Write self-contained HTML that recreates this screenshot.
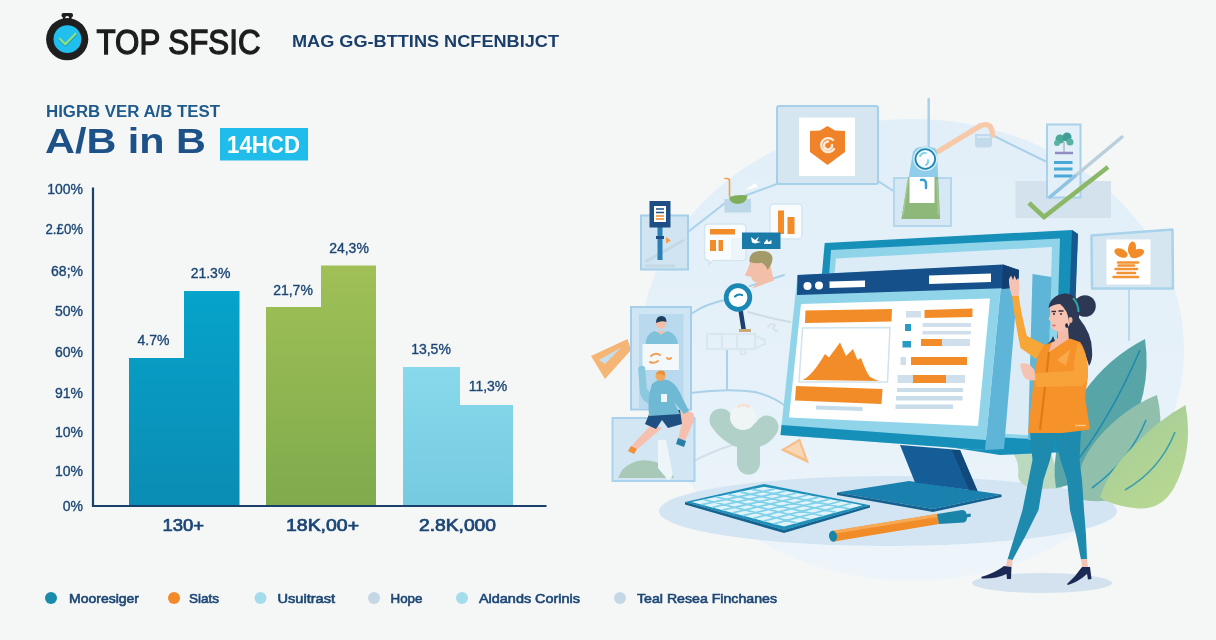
<!DOCTYPE html>
<html lang="en">
<head>
<meta charset="utf-8">
<title>Top SFSIC - A/B Test</title>
<style>
html,body{margin:0;padding:0;background:#f5f7f7;}
body{width:1216px;height:640px;overflow:hidden;font-family:"Liberation Sans",sans-serif;}
svg{display:block;position:absolute;left:0;top:0;}
text{font-family:"Liberation Sans",sans-serif;}
.nv{fill:#1c4674;}
.yl{font-size:14px;fill:#1c4674;stroke:#1c4674;stroke-width:.35px;text-anchor:end;}
.bl{font-size:14px;fill:#1c4674;stroke:#1c4674;stroke-width:.35px;text-anchor:middle;}
.xl{font-size:16px;fill:#1c4674;stroke:#1c4674;stroke-width:.7px;}
.lg{font-size:13px;fill:#1c4674;stroke:#1c4674;stroke-width:.6px;}
</style>
</head>
<body>
<svg width="1216" height="640" viewBox="0 0 1216 640">
<defs>
<linearGradient id="gTeal" gradientUnits="userSpaceOnUse" x1="0" y1="291" x2="0" y2="506"><stop offset="0" stop-color="#06a3ca"/><stop offset="1" stop-color="#0b8cb4"/></linearGradient>
<linearGradient id="gGreen" gradientUnits="userSpaceOnUse" x1="0" y1="265" x2="0" y2="506"><stop offset="0" stop-color="#a0c057"/><stop offset="1" stop-color="#7fab4c"/></linearGradient>
<linearGradient id="gSky" gradientUnits="userSpaceOnUse" x1="0" y1="367" x2="0" y2="506"><stop offset="0" stop-color="#88d9eb"/><stop offset="1" stop-color="#76cae0"/></linearGradient>
<linearGradient id="gBlob" x1="0" y1="0" x2="0" y2="1"><stop offset="0" stop-color="#e2eff8"/><stop offset=".6" stop-color="#e6f1f9"/><stop offset="1" stop-color="#eef5fa"/></linearGradient>
<linearGradient id="gLeaf" x1="0.2" y1="0" x2="0.8" y2="1"><stop offset="0" stop-color="#a4cc9b"/><stop offset="1" stop-color="#b9d991"/></linearGradient>
<!--DEFS-->
</defs>
<rect width="1216" height="640" fill="#f5f7f7"/>

<!-- ===== Illustration background ===== -->
<g id="bg-blob">
  <ellipse cx="912" cy="350" rx="272" ry="231" fill="url(#gBlob)"/>
  <ellipse cx="888" cy="511" rx="229" ry="35" fill="#d3e5f2"/>
  <ellipse cx="1042" cy="583" rx="70" ry="10" fill="#d3e2ee"/>
</g>
<!-- connector lines -->
<g id="wires" fill="none" stroke="#a9d1ea" stroke-width="2" stroke-linecap="round" stroke-linejoin="round">
  <path d="M688 232 L725 203 L777 184"/>
  <path d="M878 181 L895 192"/>
  <path d="M928.700 99 V146" stroke-width="2.5"/>
  <path d="M992 135 L1047 162"/>
  <path d="M691 314 Q705 304 725 300"/>
  <path d="M750 286 L784 275"/>
  <path d="M691 393 Q730 388 755 392 Q772 396 784 405"/>
  <path d="M727 350 V389"/>
  <path d="M1129 290 V340" stroke="#bcdaee"/>
  <path d="M672 474 Q700 455 735 444" stroke="#d3dfe6"/>
  <path d="M748 312 Q770 318 790 322" stroke="#cfdce4"/>
</g>

<!-- ===== Floating cards ===== -->
<g id="card-shield">
  <rect x="777" y="106" width="101" height="78" rx="2" fill="#d5e6f0" stroke="#a6d0ea" stroke-width="2"/>
  <rect x="799" y="117.5" width="56" height="58.5" fill="#ffffff"/>
  <path d="M827.5 126 L835 130.5 L845 131 L845 152 L827.5 165 L810 152 L810 131 L820 130.5 Z" fill="#f0832a"/>
  <path d="M833 140 A7 7 0 1 0 834 149 M832 145 A4 4 0 1 1 828 141.5" fill="none" stroke="#fdebd9" stroke-width="2.4" stroke-linecap="round"/>
</g>
<g id="card-flask">
  <rect x="894" y="178" width="57" height="48" fill="#d6e8f3" stroke="#b3d8ee" stroke-width="2"/>
  <path d="M980 126 Q992 121 992.500 135" fill="none" stroke="#f7c9a9" stroke-width="5.400" stroke-linecap="round"/>
  <path d="M938 151.500 L980 126" fill="none" stroke="#f7c9a9" stroke-width="5.400" stroke-linecap="round"/>
  <path d="M975 134 h17 v10.500 q0 3 -3 3 h-11 q-3 0 -3 -3 Z" fill="#c2daea"/>
  <path d="M977 137 h13" stroke="#dbe9f3" stroke-width="2" fill="none"/>
  <path d="M916 148 Q925 145 935 148 L937 152 L940 219 L901.500 219 L913 152 Z" fill="#8fcdea"/>
  <path d="M908.500 177 L938 177 L940 219 L901.500 219 Z" fill="#8db87a"/>
  <path d="M903 215 L908 180 M938.500 215 L937 180" stroke="#a7c796" stroke-width="1.500" fill="none"/>
  <rect x="909.500" y="177" width="25" height="26" fill="#ffffff"/>
  <path d="M921 180 q5 -1 5 4 v4" fill="none" stroke="#3aa0d0" stroke-width="2.500" stroke-linecap="round"/>
  <circle cx="925.300" cy="159" r="12" fill="#d9eef8"/>
  <circle cx="925.300" cy="159" r="9.800" fill="#f7fbfd" stroke="#1b88b4" stroke-width="1.800"/>
  <path d="M920 156 q2 -4 6 -3 M928 160 q1 3 -2 5" stroke="#7fd0e8" stroke-width="1.800" fill="none" stroke-linecap="round"/>
</g>
<g id="card-check">
  <rect x="1015.5" y="181" width="95.5" height="37" fill="#d3e2ec"/>
  <rect x="1047" y="124.5" width="33.5" height="73" fill="#e3f0f8" stroke="#a9d1ea" stroke-width="2"/>
  <path d="M1064 152 v-10" stroke="#b8c8d8" stroke-width="2" fill="none"/>
  <circle cx="1060" cy="139" r="4.5" fill="#4aa99a"/><circle cx="1067" cy="137" r="4.5" fill="#3f9f98"/><circle cx="1070" cy="142" r="3.5" fill="#58b3a3"/><circle cx="1057" cy="143" r="3" fill="#58b3a3"/>
  <path d="M1055 153 h18" stroke="#8f8cc0" stroke-width="2.5" fill="none"/>
  <path d="M1054 162.5 h18.5 M1054 169 h18.5 M1054 176 h18.5" stroke="#4aa8d8" stroke-width="3.2" fill="none"/>
  <path d="M1050 197 L1122 137" stroke="#b9cfdc" stroke-width="3.5" fill="none" stroke-linecap="round"/>
  <path d="M1050 197 L1075 176" stroke="#8fc3e3" stroke-width="3.5" fill="none" stroke-linecap="round"/>
  <path d="M1029 203 L1044 217 L1108 167" stroke="#8ab866" stroke-width="4.5" fill="none" stroke-linejoin="miter"/>
</g>
<g id="card-plant">
  <path d="M1091.500 235.500 L1172.500 229.500 L1173 288.500 L1092 288.500 Z" fill="#d5e6f0" stroke="#a9d3ea" stroke-width="2.500" stroke-linejoin="round"/>
  <rect x="1106.500" y="239.500" width="44" height="45" fill="#ffffff"/>
  <ellipse cx="1121" cy="253" rx="7" ry="4.200" fill="#f28c28" transform="rotate(25 1121 253)"/>
  <ellipse cx="1132" cy="248.500" rx="4" ry="7" fill="#f28c28" transform="rotate(8 1132 248.500)"/>
  <ellipse cx="1137" cy="253.500" rx="7.500" ry="4" fill="#f28c28" transform="rotate(-22 1137 253.500)"/>
  <path d="M1118 262.500 H1138 M1118.500 265.500 H1134 M1115.500 269 H1137 M1117.500 273 H1135 M1113.500 277 H1138" stroke="#f29434" stroke-width="2.500" fill="none" stroke-linecap="round"/>
</g>
<g id="card-sign">
  <rect x="641" y="215.500" width="47" height="54" fill="#d0e4f1" stroke="#a6d0ea" stroke-width="2"/>
  <path d="M645 262 L684 240 M645 266 h30" stroke="#c3d9e6" stroke-width="3" fill="none"/>
  <rect x="657.500" y="226" width="5" height="34" fill="#2a7fb5"/>
  <rect x="656" y="236" width="8" height="3" fill="#1d4f85"/>
  <rect x="649.500" y="201" width="21" height="26.500" fill="#1d4f85"/>
  <rect x="654" y="206" width="12" height="16" fill="#ffffff"/>
  <path d="M656 209 h8 M656 212.500 h8" stroke="#1d4f85" stroke-width="1.6" fill="none"/>
  <path d="M656 216 h8 M656 219 h8" stroke="#f28c28" stroke-width="1.6" fill="none"/>
  <path d="M666 237 l5 3.500 l-5 3 Z" fill="#f2a050"/>
</g>
<g id="tray">
  <path d="M729.500 196 V181 q0 -2.500 -2.500 -2.500 h-2" stroke="#f2a050" stroke-width="1.600" fill="none" stroke-linecap="round"/>
  <path d="M745 190 l10 -7 l3 4 Z" fill="#ffffff"/>
  <path d="M724.500 199 h26.500 v13.500 h-26.500 Z" fill="#bcd7e8"/>
  <path d="M729 197 q9 -3 18.500 -1.500 q-1 8 -9.500 8.500 q-8 0 -9 -7 Z" fill="#7fae5a"/>
</g>
<g id="card-bars">
  <rect x="770" y="204" width="32" height="35" rx="4" fill="#f9fcfe" stroke="#d3e5f0" stroke-width="1.500"/>
  <rect x="778" y="210.500" width="6" height="23.500" fill="#f28c28"/>
  <rect x="787.500" y="217" width="7" height="17" fill="#f28c28"/>
</g>
<g id="card-bubble">
  <path d="M708.500 224 h33.500 q4 0 4 4 v28.500 q0 4 -4 4 h-29 l-4 4 v-4 q-4.500 0 -4.500 -4 v-28.500 q0 -4 4 -4 Z" fill="#f9fcfe" stroke="#d3e5f0" stroke-width="1.500"/>
  <rect x="710" y="229" width="25" height="5.500" fill="#f28c28"/>
  <rect x="710" y="240" width="6" height="11" fill="#f28c28"/>
  <rect x="718.500" y="240" width="4.500" height="11" fill="#f28c28"/>
  <rect x="731" y="238" width="14" height="21" fill="#eef5fa"/>
</g>
<g id="man-head">
  <path d="M750 262 q-2 8 -5 13 q2 2 6 1.500 q1 5 5 6 l2 0 l-6 6 l22 -8 l-4 -16 Z" fill="#f4bfa8"/>
  <path d="M749.500 262 q-1 -10 10 -11 q12 -1 13 7 q0 6 -5 12 q-2 -6 -6 -7 q-6 1 -12 -1 Z" fill="#a39a68"/>
</g>
<g id="label-teal">
  <rect x="742" y="232.500" width="38.500" height="16.500" fill="#1a7aa8"/>
  <path d="M751 237 l4 3 l4 -3.500 l-2 4.500 l4 1 l-6 1.500 l-3 -1 Z M764 243 l3 -4 l1.500 3 l3 -2 v4 h-7.500 Z" fill="#ffffff"/>
</g>
<g id="magnifier">
  <path d="M740.700 311 L743.700 330" stroke="#1d3f6e" stroke-width="4.500" fill="none" stroke-linecap="butt"/>
  <rect x="739" y="329" width="12" height="3" fill="#c9a87a"/>
  <circle cx="738" cy="297.500" r="11.800" fill="#ffffff" stroke="#1b88b4" stroke-width="4.800"/>
  <path d="M735 296.500 q3 -3 7 -1.500" stroke="#1b88b4" stroke-width="2.200" fill="none" stroke-linecap="round"/>
</g>
<g id="filmstrip" fill="none" stroke="#dbe7ef" stroke-width="2.200">
  <rect x="707" y="334" width="48" height="15"/>
  <path d="M722 334 v15 M737 334 v15 M755 336 l10 4 v4 l-10 4"/>
  <circle cx="743" cy="352" r="2.500"/>
  <path d="M768 328 q2 -6 7 -3 q-4 5 3 6" stroke="#dbe3e8"/>
</g>
<g id="tag-orange">
  <path d="M591 356 L627.500 339 L631 350 L605 379 Z" fill="#f5b675"/>
  <path d="M599 360 L621 347.500 L605 364 Z" fill="#c5dfee"/>
</g>
<g id="card-person">
  <rect x="631" y="307" width="60" height="102.500" fill="#d0e5f3" stroke="#a3cfea" stroke-width="2"/>
  <rect x="639" y="314" width="44.500" height="95" fill="#b9daee"/>
  <!-- person 1 -->
  <path d="M645.500 345 q0 -11 9 -14 l6.500 3 l6.500 -3 q10 3 10.500 14 Z" fill="#7fc1da"/>
  <path d="M657 331 l4 4 l4 -4 Z" fill="#f4bfa8"/>
  <circle cx="661" cy="324" r="5" fill="#f4bfa8"/>
  <path d="M656 323 q0 -7 5.500 -7 q5 0 5 6 q-5 -2 -10.500 1 Z" fill="#1d3d5c"/>
  <rect x="642.500" y="344" width="36.500" height="26" fill="#f3f8fb"/>
  <path d="M651 356 q4 -4 9 -1 M650 362 q4 2 8 -1 M667 358 q2 2 4 0" stroke="#f2a050" stroke-width="2" fill="none" stroke-linecap="round"/>
</g>
<g id="card-person2">
  <rect x="612.500" y="418" width="82" height="63" fill="#d2e6f3" stroke="#a9d3ec" stroke-width="2"/>
  <path d="M622 470 q14 -14 34 -8 q12 4 18 16 h-56 Z" fill="#a9c9b8"/>
  <path d="M658 440 h8 l6 30 q2 8 -4 10 l-10 -12 Z" fill="#eef5f9"/>
</g>
<g id="runner">
  <!-- back arm -->
  <path d="M638 368 q3 -4 7 -1 l2 22 q6 8 12 6 l-2 10 q-14 0 -17 -12 Z" fill="#8cc8de"/>
  <!-- legs -->
  <path d="M652 424 L634 443 L630 449 l4 3 L662 428 Z" fill="#f6c0b0"/>
  <path d="M631 446 l-3 5 l6 3 l3 -5 Z" fill="#f2903a"/>
  <path d="M672 414 q14 -6 21 -1 q3 6 -1 12 l-8 18 l-6 -3 l4 -18 l-12 4 Z" fill="#f6c0b0"/>
  <path d="M678 438 l8 3 l-2 6 l-8 -3 Z" fill="#2a7fa8"/>
  <!-- shorts -->
  <path d="M650 412 L680 410 L682 424 L668 428 L662 420 L656 429 L645 424 Z" fill="#1d4f80"/>
  <!-- shirt -->
  <path d="M652 384 q8 -7 18 -3 q7 4 12 16 l7 14 l-5 3 l-10 -12 l6 12 l-31 2 q-2 -18 3 -32 Z" fill="#6fb9d5"/>
  <rect x="661" y="394" width="6" height="8" fill="#eef6fa"/>
  <!-- head -->
  <circle cx="660.500" cy="376" r="5" fill="#f2a85a"/>
  <path d="M656 374 q2 -5 8 -3 q2 2 1 5 q-4 -3 -9 -2 Z" fill="#e8913a"/>
</g>
<g id="yblob">
  <path d="M721 420 Q733 437 748 437 Q761 437 767 427" fill="none" stroke="#b0d0c8" stroke-width="23" stroke-linecap="round"/>
  <path d="M748.500 438 V463" fill="none" stroke="#b0d0c8" stroke-width="23" stroke-linecap="round"/>
  <circle cx="743" cy="417" r="13" fill="#eff4f5"/>
  <path d="M738 407 q6 -4 11 0" stroke="#f9dfd0" stroke-width="2.500" fill="none" stroke-linecap="round"/>
</g>
<g id="tri-orange">
  <path d="M780.500 450 L800 438.500 L809 463.500 Z" fill="#f6bd85"/>
  <path d="M785 449.500 L799 441.500 L805 458.500 Z" fill="#f9d6b4"/>
</g>

<!-- ===== Leaves ===== -->
<g id="leaves">
  <path d="M1012 452 Q1020 462 1018 476 Q1020 488 1040 489 L1062 488 L1050 450 Z" fill="#bad9be"/>
  <path d="M1145 339 Q1153 395 1122 444 Q1098 480 1056 488 Q1048 440 1084 392 Q1108 358 1145 339 Z" fill="#58a5a8"/>
  <path d="M1140 350 Q1110 420 1070 470" fill="none" stroke="#1e8aad" stroke-width="1.600"/>
  <path d="M1157 395 Q1168 440 1144 480 Q1122 508 1078 499 Q1072 470 1098 438 Q1124 408 1157 395 Z" fill="#90c0ab"/>
  <path d="M1146 420 Q1130 460 1092 488" fill="none" stroke="#2a96b3" stroke-width="1.600"/>
  <path d="M1185.500 405 Q1194 450 1174 488 Q1160 512 1134 508 Q1110 505 1100 497 Q1110 468 1134 446 Q1158 420 1185.500 405 Z" fill="url(#gLeaf)"/>
  <path d="M1175 432 Q1160 470 1125 490" fill="none" stroke="#3c9fae" stroke-width="1.600"/>
</g>
<!-- ===== Monitor ===== -->
<g id="monitor-back">
  <path d="M824.700 243 L1072 230 L1078 234 L1068 452 L1000 455 L840 430 L820.500 290 Z" fill="#168fb9"/>
  <path d="M1072 230 L1078 234 L1070 452 L1064 452 Z" fill="#155a8f"/>
  <path d="M831 250 L1060 238.500 L1054 440 L846 430 L828 290 Z" fill="#90d4ea"/>
  <path d="M836 258.500 L1052 247 L1046 436 L850 426 L833 290 Z" fill="#dcecf7"/>
  <path d="M1032.500 274 L1051.500 277 L1046 440 L1028 440 Z" fill="#5fb5d8"/>
</g>
<g id="stand">
  <path d="M837 492.500 L909 481 L1001.500 494.500 L933 509 Z" fill="#1a80ae"/>
  <path d="M837 492.500 L933 509 L1001.500 494.500 L1001.500 497 L933 512 L837 495 Z" fill="#14618f"/>
  <path d="M900 445 L960 450 L977.500 491 L915 482.500 Z" fill="#155d96"/>
  <path d="M952 450 L960 450 L977.500 491 L969 490 Z" fill="#10497a"/>
</g>
<g id="monitor-front">
  <!-- side facet -->
  <path d="M1003 265 L1019 270 L1004 449 L985 450 Z" fill="#5fb5d8"/>
  <!-- body -->
  <path d="M797.500 275 L1003 265 L985 450 L780.500 435 Z" fill="#90d4ea"/>
  <!-- bottom band -->
  <path d="M781.500 425 L986 440 L985 450 L780.500 435 Z" fill="#1790b9"/>
  <!-- white content -->
  <path d="M801 304 L990 298.500 L978 426 L789 417.500 Z" fill="#ffffff"/>
  <!-- header -->
  <path d="M797.500 275 L1003 264.500 L1019 270 L1018 287.500 L1010 288 L797 295 Z" fill="#15508a"/>
  <path d="M1003 264.500 L1019 270 L1018 287.500 L1002 289 Z" fill="#123f70"/>
  <circle cx="807.500" cy="286" r="4" fill="#ffffff"/>
  <circle cx="819" cy="285.500" r="4" fill="#ffffff"/>
  <path d="M829.500 281.500 L865 280.500 L865 287 L829.500 288 Z" fill="#ffffff"/>
  <path d="M929 275.500 L991 273.500 L991 282 L929 284 Z" fill="#ffffff"/>
  <!-- content left -->
  <path d="M805.500 310.500 L892 309 L891.500 321.500 L805 323 Z" fill="#f28c28"/>
  <path d="M802.500 328 L890 327.500 L887.500 382 L799 382 Z" fill="#ffffff" stroke="#cfe3ef" stroke-width="1.500"/>
  <path d="M802.500 380 Q812 376 825 354 L829 357.500 L840 342.500 L846 356 L853 349 L857.500 360 L861 358 Q866 372 870 377 Q875 380 880 381 Z" fill="#f28c28"/>
  <path d="M796 386 L882.500 389 L881.500 404 L795 400.500 Z" fill="#f28c28"/>
  <path d="M816 405.500 L862.500 407 L862.500 411 L816 409.500 Z" fill="#c3dbea"/>
  <!-- content right -->
  <rect x="906" y="311" width="15" height="6.500" fill="#cfe0ec"/>
  <path d="M924.500 310 L972.500 308.500 L972.500 317 L924.500 318 Z" fill="#f28c28"/>
  <rect x="905" y="324" width="6" height="7" fill="#2a9bc4"/>
  <rect x="922.500" y="323" width="48.500" height="4" fill="#cfe0ec"/>
  <rect x="922.500" y="331" width="48.500" height="3.500" fill="#cfe0ec"/>
  <rect x="902.500" y="341" width="8.500" height="6.500" fill="#2a9bc4"/>
  <rect x="921" y="339" width="49" height="7" fill="#cfe0ec"/>
  <rect x="921" y="339" width="21" height="7" fill="#f28c28"/>
  <rect x="900.500" y="357" width="5.500" height="8" fill="#cfe0ec"/>
  <rect x="911" y="357" width="56" height="8" fill="#f28c28"/>
  <rect x="897.500" y="375" width="67.500" height="8" fill="#cfe0ec"/>
  <rect x="913" y="375" width="33" height="8" fill="#f28c28"/>
  <rect x="897" y="388" width="66" height="4" fill="#c9dcea"/>
  <rect x="896" y="396" width="66.500" height="4.500" fill="#c9dcea"/>
  <rect x="895.500" y="404.500" width="57.500" height="4.500" fill="#c9dcea"/>
</g>
<!-- ===== Keyboard ===== -->
<g id="keyboard">
  <path d="M685 502 L764 484 L870 505.300 L784 530 Z" fill="#1d8fb8"/>
  <path d="M685 502 L784 530 L870 505.300 L870 507.500 L784 533 L685 504.500 Z" fill="#14628f"/>
  <path d="M691.5 502.0 L764.0 486.8 L862.5 505.3 L784.0 526.6 Z" fill="#def3fa"/>
  <path d="M703.6 499.5 L797.1 523.1 M715.7 496.9 L810.2 519.5 M727.8 494.4 L823.2 516.0 M739.8 491.9 L836.3 512.4 M751.9 489.3 L849.4 508.9 M701.8 504.7 L774.9 488.9 M712.1 507.5 L785.9 490.9 M722.3 510.2 L796.8 493.0 M732.6 512.9 L807.8 495.0 M742.9 515.7 L818.7 497.1 M753.2 518.4 L829.7 499.1 M763.4 521.1 L840.6 501.2 M773.7 523.9 L851.6 503.2" fill="none" stroke="#7fd0e8" stroke-width="1.700"/>
</g>
<!-- ===== Pencil ===== -->
<g id="pencil">
  <path d="M832 531 L937 514 L939 524 L834 541.500 Z" fill="#f28c28"/>
  <path d="M832 531 L937 514 L937.500 517 L832.500 534 Z" fill="#f7a955"/>
  <path d="M937 514 L962 510 q4 0 4.500 4 l4 -0.500 l0.500 3 l-4 1 q0 4 -3 5 L939 524 Z" fill="#1a85a8"/>
  <ellipse cx="833" cy="536.200" rx="4" ry="5.500" fill="#1a85a8" transform="rotate(-9 833 536.200)"/>
</g>

<!-- ===== Woman ===== -->
<g id="woman">
  <!-- hair back -->
  <path d="M1064 293.500 Q1074 293 1078 301 Q1080 310 1079 318 Q1092 334 1092 350 Q1093 360 1089 366 Q1086 354 1080 347 L1068 338 L1062 320 Z" fill="#2d3954"/>
  <circle cx="1085" cy="306" r="10.800" fill="#2d3954"/>
  <!-- legs -->
  <path d="M1030 432 L1056 432 L1050 460 L1043.500 480 L1038.500 510 L1026 535 L1012.500 560 L1007.500 559.500 L1015 535 L1022.500 510 L1028.500 480 L1032.500 460 Z" fill="#1e8aad"/>
  <path d="M1054 432 L1081 431 L1079.500 460 L1082 480 L1084 510 L1086 535 L1087 559 L1081 559.500 L1076 535 L1070 510 L1067 480 L1060.500 460 Z" fill="#1e8aad"/>
  <!-- ankles -->
  <path d="M1007.500 559 L1012.500 560 L1012 567 L1006 566 Z" fill="#f6c3b2"/>
  <path d="M1081 559.500 L1087 559 L1088 567 L1082 567 Z" fill="#f6c3b2"/>
  <!-- shoes -->
  <path d="M981 577 Q995 573 1004 566 L1011.500 567 L1011 579 L1007 579 L1006.500 574 Q996 579 982 578.500 Z" fill="#1b2a55"/>
  <path d="M1067 584 Q1076 576 1082 567 L1090 567 L1091.500 579 L1088 579.500 L1087 574 Q1078 582 1068 585 Z" fill="#1b2a55"/>
  <!-- raised arm -->
  <path d="M1012 296 L1018.600 295 Q1022 318 1027 336 L1045 345 L1036 359 L1020.500 348 Q1015 322 1012 296 Z" fill="#f7a638"/>
  <!-- raised hand -->
  <path d="M1012 296 Q1008.500 286 1009 279 L1011 275.500 L1013 280 L1014.500 275.500 L1016.500 280 L1018.500 278 Q1020.500 288 1018.600 296 Z" fill="#f6c3b2"/>
  <!-- neck + chest -->
  <path d="M1057 326 L1068 328 L1069 341 L1064 346 L1049 352 L1051 342 L1058 338 Z" fill="#f4bba8"/>
  <!-- jacket body -->
  <path d="M1043.500 345.500 L1052 341.500 L1049 352 L1064 342 L1070 338.500 L1080 342 Q1087 350 1088 376 L1085 397 L1090 429.500 L1062 433 L1028 433 L1033 387 L1037 358 Z" fill="#f6922a"/>
  <path d="M1049 352 L1040 430" stroke="#de7a18" stroke-width="2.200" fill="none"/>
  <path d="M1057 360 L1070 349.500 L1066 365.500 Z" fill="#f9ab4c"/>
  <path d="M1075 425.500 h11" stroke="#fbc07a" stroke-width="1.500" fill="none"/>
  <!-- front arm -->
  <path d="M1078 343 Q1087 350 1088 368 Q1089 382 1082 386 L1036 387 L1034 373 L1074 371 Q1074 356 1078 343 Z" fill="#f8a33a"/>
  <path d="M1020 364 Q1025 362 1030 365 L1034.500 370 L1035.500 380 Q1028 381.500 1024 377 Q1021 371 1020 364 Z" fill="#f6c3b2"/>
  <!-- face -->
  <path d="M1049.500 307 Q1054 300 1064 302 L1072 318 Q1070 328 1062 331 Q1054 332 1051 327 L1051.500 322.500 L1048.500 319 L1050.500 314.500 Z" fill="#f6c3b2"/>
  <!-- hair front -->
  <path d="M1048.500 308 Q1050 296 1064 293.500 Q1077 296 1077 312 L1074 332 L1069 322 Q1068 310 1060 304 Q1054 304 1048.500 308 Z" fill="#2d3954"/>
  <path d="M1053 336 Q1051 342 1046.500 344.500 L1055 341 Z" fill="#2d3954"/>
  <ellipse cx="1070.500" cy="320" rx="2" ry="3" fill="#f4b5a0"/>
  <path d="M1073 298 Q1078.500 304 1078.500 312" stroke="#2aa6a6" stroke-width="2" fill="none"/>
  <ellipse cx="1066.600" cy="325.500" rx="1.400" ry="2.300" fill="#1b2440"/>
  <path d="M1051.500 311.500 h4.500 M1058.500 311 h5" stroke="#3a2b3a" stroke-width="1.300" fill="none"/>
  <circle cx="1054" cy="314" r="1" fill="#3a2b3a"/><circle cx="1061" cy="314" r="1" fill="#3a2b3a"/>
  <path d="M1052.500 325.500 h3" stroke="#d86a6a" stroke-width="1.600" fill="none"/>
</g>



<!-- ===== Header ===== -->
<g id="logo">
  <rect x="61.500" y="13" width="11.500" height="4.500" rx="2" fill="#1f1f1f"/>
  <circle cx="67.200" cy="18" r="3.200" fill="#f5f7f7" stroke="#1f1f1f" stroke-width="2.400"/>
  <circle cx="67.200" cy="39.200" r="21.100" fill="#1f1f1f"/>
  <circle cx="67.400" cy="39.200" r="13.900" fill="#20bfee"/>
  <path d="M60 39.500 L65.500 45 L75.800 34.500" fill="none" stroke="#1a9fb5" stroke-width="3" stroke-linecap="round" stroke-linejoin="round"/>
  <path d="M59.800 38.800 L65.300 44.300 L75.600 33.800" fill="none" stroke="#8fe07e" stroke-width="2.300" stroke-linecap="round" stroke-linejoin="round"/>
</g>
<text x="96.5" y="54" font-size="34.5" fill="#1d1d1d" stroke="#1d1d1d" stroke-width="1.3" textLength="164" lengthAdjust="spacingAndGlyphs">TOP SFSIC</text>
<text x="292" y="47" font-size="16.8" font-weight="bold" fill="#1b3f6b" textLength="267" lengthAdjust="spacingAndGlyphs">MAG GG-BTTINS NCFENBIJCT</text>

<text x="46" y="116.5" font-size="16" font-weight="bold" fill="#1f5a8c" textLength="174" lengthAdjust="spacingAndGlyphs">HIGRB VER A/B TEST</text>
<text x="45" y="153" font-size="35" font-weight="bold" fill="#1d5288" textLength="161" lengthAdjust="spacingAndGlyphs">A/B in B</text>
<rect x="220" y="128" width="88" height="32.5" fill="#20bcea"/>
<text x="227" y="152.5" font-size="23" font-weight="bold" fill="#ffffff" textLength="73" lengthAdjust="spacingAndGlyphs">14HCD</text>

<!-- ===== Chart ===== -->
<g id="chart">
  <rect x="129" y="358" width="56" height="148" fill="url(#gTeal)"/>
  <rect x="184" y="291" width="55.5" height="215" fill="url(#gTeal)"/>
  <rect x="266" y="307" width="56" height="199" fill="url(#gGreen)"/>
  <rect x="321" y="265.5" width="55" height="240.5" fill="url(#gGreen)"/>
  <rect x="403" y="367" width="57" height="139" fill="url(#gSky)"/>
  <rect x="459" y="405" width="54" height="101" fill="url(#gSky)"/>
  <path d="M93 187.5 V506 H546.5" fill="none" stroke="#1b3f6b" stroke-width="2.2"/>
  <text class="yl" x="83" y="193.5">100%</text>
  <text class="yl" x="83" y="234" textLength="37.5" lengthAdjust="spacingAndGlyphs">2.£0%</text>
  <text class="yl" x="83" y="275.5">68;%</text>
  <text class="yl" x="83" y="316">50%</text>
  <text class="yl" x="83" y="357">60%</text>
  <text class="yl" x="83" y="397.5">91%</text>
  <text class="yl" x="83" y="437">10%</text>
  <text class="yl" x="83" y="475.5">10%</text>
  <text class="yl" x="83" y="510.5">0%</text>
  <text class="bl" x="153.5" y="344.5">4.7%</text>
  <text class="bl" x="210.5" y="278">21.3%</text>
  <text class="bl" x="293" y="294.5">21,7%</text>
  <text class="bl" x="349" y="253">24,3%</text>
  <text class="bl" x="431" y="354">13,5%</text>
  <text class="bl" x="488" y="391">11,3%</text>
  <text class="xl" x="162.5" y="531" textLength="41.5" lengthAdjust="spacingAndGlyphs">130+</text>
  <text class="xl" x="286" y="531" textLength="73" lengthAdjust="spacingAndGlyphs">18K,00+</text>
  <text class="xl" x="419" y="531" textLength="77" lengthAdjust="spacingAndGlyphs">2.8K,000</text>
</g>

<!-- ===== Legend ===== -->
<g id="legend">
  <circle cx="51" cy="598" r="6" fill="#1a8cab"/>
  <text class="lg" x="69" y="602.5" textLength="70" lengthAdjust="spacingAndGlyphs">Mooresiger</text>
  <circle cx="174" cy="598" r="6" fill="#f28a2a"/>
  <text class="lg" x="189" y="602.5" textLength="30" lengthAdjust="spacingAndGlyphs">Siats</text>
  <circle cx="260.5" cy="598" r="6" fill="#a5dcec"/>
  <text class="lg" x="277.5" y="602.5" textLength="57.5" lengthAdjust="spacingAndGlyphs">Usuitrast</text>
  <circle cx="374" cy="598" r="6" fill="#c3d7e5"/>
  <text class="lg" x="390.5" y="602.5" textLength="32" lengthAdjust="spacingAndGlyphs">Hope</text>
  <circle cx="462" cy="598" r="6" fill="#a5dcec"/>
  <text class="lg" x="479" y="602.5" textLength="101" lengthAdjust="spacingAndGlyphs">Aldands Corinis</text>
  <circle cx="620" cy="598" r="6" fill="#c3d7e5"/>
  <text class="lg" x="637" y="602.5" textLength="140" lengthAdjust="spacingAndGlyphs">Teal Resea Finchanes</text>
</g>
</svg>
</body>
</html>
